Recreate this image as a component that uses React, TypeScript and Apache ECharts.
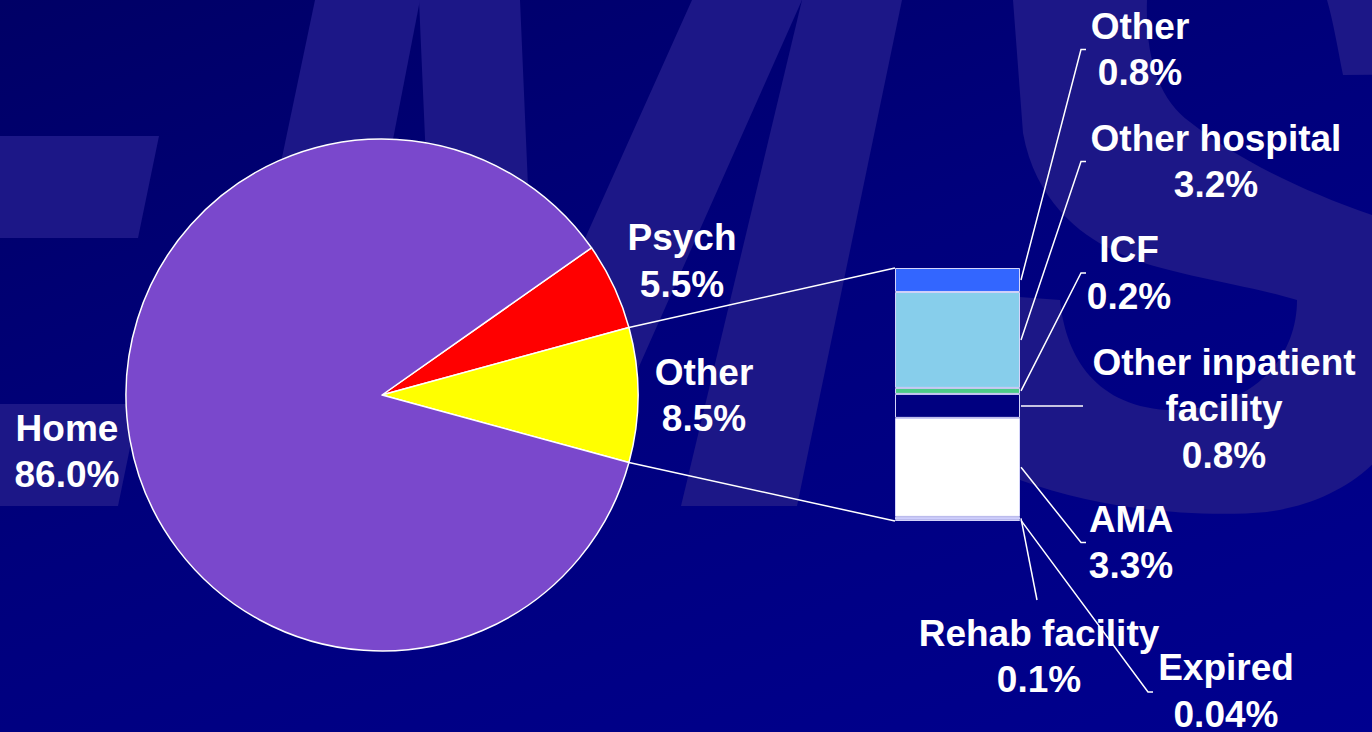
import React, { useEffect, useRef } from 'react';
import * as echarts from 'echarts';

// ---- data ----
const pieNames = ['Psych', 'Other', 'Home'];
const pieValues = [5.5, 8.5, 86.0];

const barNames = ['Other', 'Other hospital', 'ICF', 'Other inpatient facility', 'AMA', 'Rehab facility', 'Expired'];
const barLabelNames = ['Other', 'Other hospital', 'ICF', 'Other inpatient\nfacility', 'AMA', 'Rehab facility', 'Expired'];
const barValues = [0.8, 3.2, 0.2, 0.8, 3.3, 0.1, 0.04];

// ---- styles / layout ----
const pieColors = ['#ff0000', '#ffff00', '#7a48cc'];
const barColors = ['#3366ff', '#87ceeb', '#4ccc88', '#000080', '#ffffff', '#ccccff', '#9999ff'];
const PIE_CENTER = [382, 395];
const PIE_R = 256;
const GRID = { left: 895, top: 268, width: 125, height: 253 };
const FONT = 'bold 37px "Liberation Sans", Arial, Helvetica, sans-serif';
const WM = '#1c1787';

const pieLabelPos = [[682, 261], [704, 395.5], [67, 451.5]];
const barLabelPos = [[1140, 49.5], [1216, 161.5], [1129, 273], [1224, 408.5], [1131, 542.5], [1039, 656.5], [1226, 691]];
// end point of leader (x, y or null = same as start, tick length)
const barLeaderEnd: [number, number | null, number][] = [
  [1081, 49.5, 5], [1081, 161.5, 5], [1081, 273, 5], [1083, null, 0],
  [1081, 542.5, 5], [1037, 600, 0], [1148, 692, 5],
];

const S_PATH =
  'M1013 -80 L1500 -80 L1500 73 L1343 75 C1338 50 1333 20 1327 0 C1320 -60 1160 -60 1147 0 ' +
  'C1145 60 1160 100 1190 122 C1235 158 1300 190 1372 215 C1430 240 1440 360 1400 430 ' +
  'C1370 480 1320 505 1267 512 C1200 518 1100 510 1020 480 L930 450 L950 292 L1060 300 ' +
  'C1065 350 1090 405 1167 410 C1250 412 1297 360 1297 300 C1250 285 1150 272 1113 250 ' +
  'C1080 235 1035 200 1023 133 L1013 0 Z';

let registered = false;

const fmt = (v: number) => (v < 0.1 ? v.toFixed(2) : v.toFixed(1)) + '%';

export default function App() {
  const ref = useRef<HTMLDivElement>(null);
  useEffect(() => {
    if (!ref.current) return;
    if (!registered) {
      echarts.graphic.registerShape('watermarkS', echarts.graphic.extendPath(S_PATH, {}) as any);
      registered = true;
    }
    const chart = echarts.init(ref.current, undefined, { renderer: 'svg' });
    const pieTotal = pieValues.reduce((a, b) => a + b, 0);
    const sweep = pieValues.map((v) => (v / pieTotal) * 360);
    const startAngle = sweep[0] + sweep[1] / 2;
    const barTotal = barValues.reduce((a, b) => a + b, 0);

    const barSeries = barValues
      .map((v, i) => ({
        name: barNames[i],
        type: 'bar',
        stack: 'other',
        barWidth: '100%',
        silent: true,
        data: [v],
        itemStyle: { color: barColors[i], borderColor: '#d4d4fa', borderWidth: 1 },
        label: { show: false },
        z: 3,
      }))
      .reverse();

    chart.setOption({
      animation: false,
      backgroundColor: 'transparent',
      grid: { left: GRID.left, top: GRID.top, width: GRID.width, height: GRID.height },
      xAxis: { type: 'category', data: ['Other'], show: false, boundaryGap: true },
      yAxis: { type: 'value', min: 0, max: barTotal, show: false },
      series: [
        {
          type: 'pie',
          center: PIE_CENTER,
          radius: PIE_R,
          startAngle,
          clockwise: true,
          silent: true,
          label: { show: false },
          labelLine: { show: false },
          itemStyle: { borderColor: '#ffffff', borderWidth: 1.5 },
          data: pieNames.map((n, i) => ({ name: n, value: pieValues[i], itemStyle: { color: pieColors[i] } })),
          z: 3,
        },
        ...barSeries,
      ],
    });

    // computed geometry
    const toPx = (v: number) => chart.convertToPixel({ gridIndex: 0 }, [0, v]) as number[];
    const yTop = toPx(barTotal)[1];
    const yBot = toPx(0)[1];
    const barLeft = GRID.left;
    const barRight = GRID.left + GRID.width;
    const a1 = ((startAngle - sweep[0]) * Math.PI) / 180;
    const a2 = ((startAngle - sweep[0] - sweep[1]) * Math.PI) / 180;
    const p1 = [PIE_CENTER[0] + PIE_R * Math.cos(a1), PIE_CENTER[1] - PIE_R * Math.sin(a1)];
    const p2 = [PIE_CENTER[0] + PIE_R * Math.cos(a2), PIE_CENTER[1] - PIE_R * Math.sin(a2)];

    // segment mids (bottom-up cumulative)
    const mids: number[] = new Array(barValues.length);
    let cum = 0;
    for (let i = barValues.length - 1; i >= 0; i--) {
      mids[i] = toPx(cum + barValues[i] / 2)[1];
      cum += barValues[i];
    }

    const lineStyle = { stroke: '#ffffff', lineWidth: 1.5, fill: 'none' };
    const graphics: any[] = [];

    // watermark
    const wmPolys = [
      [[0, 136], [159, 136], [138, 238], [0, 238]],
      [[0, 404], [139, 404], [118, 506], [0, 506]],
      [[315, 0], [420, 0], [322, 506], [209, 506]],
      [[419, 0], [520, 0], [535, 350], [692, 0], [802, 0], [577, 506], [441, 506]],
      [[802, 0], [902, 0], [797, 506], [681, 506]],
    ];
    wmPolys.forEach((pts) =>
      graphics.push({ type: 'polygon', z: 0, silent: true, shape: { points: pts }, style: { fill: WM } })
    );
    graphics.push({ type: 'watermarkS', z: 0, silent: true, x: 0, y: 0, scaleX: 1, scaleY: 1, style: { fill: WM } });

    // pie to bar connectors
    graphics.push({ type: 'line', z: 20, silent: true, shape: { x1: p1[0], y1: p1[1], x2: barLeft, y2: yTop }, style: lineStyle });
    graphics.push({ type: 'line', z: 20, silent: true, shape: { x1: p2[0], y1: p2[1], x2: barLeft, y2: yBot }, style: lineStyle });

    // pie labels
    pieNames.forEach((n, i) => {
      graphics.push({
        type: 'text', z: 30, silent: true, x: pieLabelPos[i][0], y: pieLabelPos[i][1],
        style: { text: n + '\n' + pieValues[i].toFixed(1) + '%', fill: '#ffffff', font: FONT, align: 'center', verticalAlign: 'middle', lineHeight: 46.5 },
      });
    });

    // bar labels + leaders
    barValues.forEach((v, i) => {
      const sx = barRight + 1;
      const sy = mids[i];
      const [ex, eyRaw, tick] = barLeaderEnd[i];
      const ey = eyRaw === null ? sy : eyRaw;
      const pts = [[sx, sy], [ex, ey]];
      if (tick) pts.push([ex + tick, ey]);
      graphics.push({ type: 'polyline', z: 20, silent: true, shape: { points: pts }, style: lineStyle });
      graphics.push({
        type: 'text', z: 30, silent: true, x: barLabelPos[i][0], y: barLabelPos[i][1],
        style: { text: barLabelNames[i] + '\n' + fmt(v), fill: '#ffffff', font: FONT, align: 'center', verticalAlign: 'middle', lineHeight: 46.5 },
      });
    });

    chart.setOption({ graphic: { elements: graphics } });

    return () => chart.dispose();
  }, []);

  return (
    <div
      ref={ref}
      style={{
        position: 'fixed', left: 0, top: 0, width: 1372, height: 732,
        background: 'linear-gradient(160deg, #000066 0%, #00007c 45%, #00008f 100%)',
      }}
    />
  );
}
